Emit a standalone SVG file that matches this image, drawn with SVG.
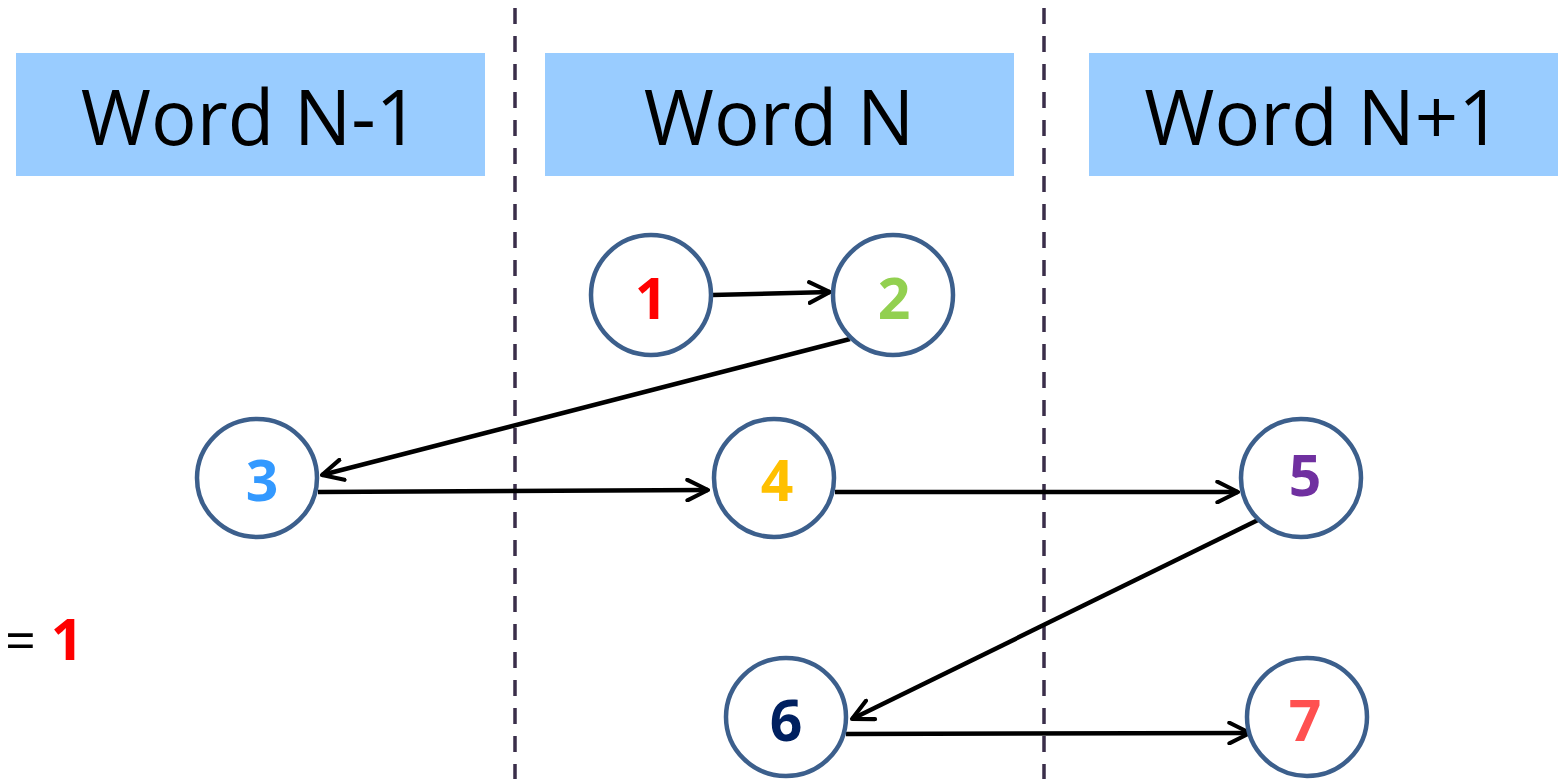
<svg xmlns="http://www.w3.org/2000/svg" width="1566" height="779" viewBox="0 0 1566 779">
  <defs>
    <style>
      .hdr { fill: #99CCFF; }
      .hdr-text { font-family: "Open Sans", "Liberation Sans", sans-serif; font-size: 76px; fill: #000; text-anchor: middle; }
      .node circle, .node ellipse { fill: #fff; stroke: #3C5F8C; stroke-width: 4.5; }
      .num { font-family: "Open Sans", "Liberation Sans", sans-serif; font-weight: bold; font-size: 57px; text-anchor: middle; }
      .divider { stroke: #3A2E4A; stroke-width: 3.5; stroke-dasharray: 16 12; }
      .edge { stroke: #000; stroke-width: 4.5; fill: none; marker-end: url(#open); }
    </style>
    <marker id="open" viewBox="0 0 12 12" refX="11" refY="6" markerWidth="5.5" markerHeight="5.5" orient="auto" markerUnits="strokeWidth">
      <path d="M1 1 L11 6 L1 11" fill="none" stroke="#000" stroke-width="2" stroke-linecap="round" stroke-linejoin="round"/>
    </marker>
  </defs>

  <rect width="1566" height="779" fill="#fff"/>

  <!-- column dividers -->
  <g id="dividers">
    <line class="divider" x1="515" y1="8" x2="515" y2="779"/>
    <line class="divider" x1="1044" y1="8" x2="1044" y2="779"/>
  </g>

  <!-- word headers -->
  <g id="word-prev">
    <rect class="hdr" x="16" y="53" width="469" height="123"/>
    <text class="hdr-text" x="250" y="145">Word N-1</text>
  </g>
  <g id="word-cur">
    <rect class="hdr" x="545" y="53" width="469" height="123"/>
    <text class="hdr-text" x="779" y="145">Word N</text>
  </g>
  <g id="word-next">
    <rect class="hdr" x="1089" y="53" width="469" height="123"/>
    <text class="hdr-text" x="1323" y="145">Word N+1</text>
  </g>

  <!-- connectors -->
  <g id="edges">
    <line class="edge" x1="712" y1="295" x2="830" y2="292"/>
    <line class="edge" x1="850" y1="339" x2="322" y2="475"/>
    <line class="edge" x1="318" y1="492" x2="708" y2="490"/>
    <line class="edge" x1="835" y1="492" x2="1238" y2="492"/>
    <line class="edge" x1="1258" y1="520" x2="852" y2="719"/>
    <line class="edge" x1="846" y1="734" x2="1250" y2="733"/>
  </g>

  <!-- nodes -->
  <g id="node-1" class="node">
    <circle cx="651" cy="295" r="60"/>
    <text class="num" x="651" y="319" fill="#FF0000">1</text>
  </g>
  <g id="node-2" class="node">
    <circle cx="893" cy="295" r="60"/>
    <text class="num" x="894" y="319" fill="#92D050">2</text>
  </g>
  <g id="node-3" class="node">
    <ellipse cx="257" cy="478" rx="60" ry="59"/>
    <text class="num" x="262" y="501" fill="#3399FF">3</text>
  </g>
  <g id="node-4" class="node">
    <ellipse cx="774" cy="478" rx="60" ry="59"/>
    <text class="num" x="777" y="501" fill="#FFC000">4</text>
  </g>
  <g id="node-5" class="node">
    <ellipse cx="1301" cy="478" rx="60" ry="59"/>
    <text class="num" x="1305" y="496" fill="#7030A0">5</text>
  </g>
  <g id="node-6" class="node">
    <ellipse cx="786" cy="717" rx="60" ry="59"/>
    <text class="num" x="786" y="741" fill="#002060">6</text>
  </g>
  <g id="node-7" class="node">
    <ellipse cx="1307" cy="717" rx="60" ry="59"/>
    <text class="num" x="1305" y="741" fill="#FF5050">7</text>
  </g>

  <!-- side note -->
  <g id="note">
    <text x="5" y="660" font-family="'Open Sans', 'Liberation Sans', sans-serif" font-size="54" fill="#000">=</text>
    <text class="num" x="67" y="660" fill="#FF0000">1</text>
  </g>
</svg>
